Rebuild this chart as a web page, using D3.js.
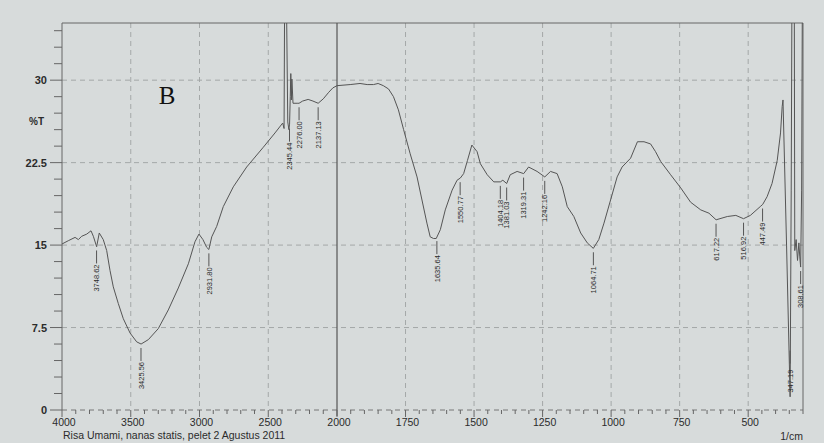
<!DOCTYPE html>
<html>
<head>
<meta charset="utf-8">
<script src="https://cdn.jsdelivr.net/npm/d3@7/dist/d3.min.js"></script>
<style>
  body { margin: 0; background: #d7dbdb; }
  svg { display: block; }
  text { font-family: "Liberation Sans", Arial, sans-serif; fill: #2b2b2b; }
</style>
</head>
<body>
<div id="chart"></div>
<script>
// spectrum (1/cm, %T); 40 = off the top of the chart
var wavenumbers = [4000, 3954, 3905, 3881, 3857, 3820, 3789, 3772, 3748, 3729, 3700, 3675, 3651, 3627, 3591,
	3554, 3505, 3457, 3425, 3372, 3300, 3227, 3154, 3081, 3033, 3004, 2975, 2948, 2932, 2911, 2875, 2827,
	2754, 2657, 2536, 2451, 2395, 2385, 2380, 2370, 2358, 2350, 2345, 2340, 2336, 2332, 2328, 2320, 2290,
	2276, 2250, 2210, 2175, 2137, 2100, 2060, 2030, 2000, 1952, 1916, 1890, 1867, 1850, 1831, 1812, 1794,
	1776, 1757, 1733, 1708, 1690, 1672, 1660, 1648, 1638, 1623, 1605, 1580, 1562, 1550, 1538, 1524, 1508,
	1489, 1477, 1452, 1428, 1404, 1395, 1381, 1368, 1343, 1319, 1301, 1270, 1242, 1221, 1197, 1178, 1160,
	1136, 1111, 1087, 1065, 1045, 1026, 1002, 978, 960, 929, 904, 880, 856, 838, 819, 783, 746, 710, 673,
	643, 617, 576, 545, 517, 492, 456, 447, 431, 413, 394, 382, 376, 373, 360, 347, 343, 340, 332, 330,
	325, 320, 315, 312, 308.6, 305, 302, 300];
var transmittance = [15.1, 15.4, 15.7, 15.5, 15.8, 16.0, 16.3, 15.8, 14.85, 16.1, 15.5, 14.5, 12.7, 11.2, 9.7,
	8.3, 7.0, 6.2, 6.0, 6.4, 7.4, 9.1, 11.1, 13.3, 15.3, 16.0, 15.5, 14.8, 14.6, 15.75, 16.7, 18.5,
	20.3, 22.1, 23.9, 25.2, 26.1, 25.6, 40, 40, 26.2, 25.5, 26.0, 28.5, 30.6, 28.2, 30.1, 27.9, 27.9,
	27.9, 28.1, 28.25, 28.1, 27.9, 28.3, 28.9, 29.3, 29.5, 29.6, 29.7, 29.6, 29.6, 29.7, 29.5, 29.2, 28.5,
	27.3, 25.5, 23.3, 21.2, 19.1, 17.0, 15.75, 15.6, 15.6, 16.4, 18.2, 20.0, 20.9, 21.1, 21.5, 22.7, 24.1,
	23.5, 22.4, 21.4, 20.75, 20.75, 20.9, 20.6, 21.4, 21.7, 21.5, 22.1, 21.7, 21.2, 21.7, 21.5, 20.3, 18.5,
	17.6, 16.1, 15.2, 14.7, 15.5, 17.0, 19.1, 21.2, 22.1, 22.9, 24.4, 24.4, 24.2, 23.5, 22.6, 21.4, 20.2, 18.9, 18.2,
	17.9, 17.3, 17.6, 17.7, 17.4, 17.7, 18.5, 18.7, 19.4, 20.6, 22.7, 25.2, 27.6, 28.2, 15.0, 1.2, 20, 40, 40, 14.5,
	15.5, 13.6, 15.2, 14.0, 13.0, 20, 40, 40];

var peakLabels = ["3748.62", "3425.56", "2931.80", "2345.44", "2276.00", "2137.13", "1635.64", "1550.77",
	"1404.18", "1381.03", "1319.31", "1242.16", "1064.71", "617.22", "516.92", "447.49", "347.19", "308.61"];

var xTickLabels = [4000, 3500, 3000, 2500, 2000, 1750, 1500, 1250, 1000, 750, 500];
var yTickLabels = [0, 7.5, 15, 22.5, 30];

var width = 824, height = 443;
var plotL = 62, plotR = 803, plotT = 23, plotB = 410;

var x = d3.scaleLinear().domain([4000, 2000, 300]).range([plotL, 337, plotR]);
var y = d3.scaleLinear().domain([0, 35.2]).range([plotB, plotT]);

var svg = d3.select('#chart').append('svg').attr('width', width).attr('height', height);

var ink = '#555';
var grid = '#a4a8a8';

// grid
svg.selectAll('.hgrid').data(yTickLabels.filter(function(d){ return d > 0; })).enter().append('line')
	.attr('x1', plotL).attr('x2', plotR)
	.attr('y1', function(d){ return y(d); }).attr('y2', function(d){ return y(d); })
	.attr('stroke', grid).attr('stroke-width', 1).attr('stroke-dasharray', '5,4');

svg.selectAll('.vgrid').data(xTickLabels.filter(function(d){ return d != 4000 && d != 2000; })).enter().append('line')
	.attr('x1', function(d){ return x(d); }).attr('x2', function(d){ return x(d); })
	.attr('y1', plotT).attr('y2', plotB)
	.attr('stroke', grid).attr('stroke-width', 1).attr('stroke-dasharray', '5,4');

// bottom baseline is dashed too
svg.append('line').attr('x1', plotL).attr('x2', plotR).attr('y1', plotB).attr('y2', plotB)
	.attr('stroke', '#777').attr('stroke-dasharray', '5,4');

// frame
svg.append('path')
	.attr('d', 'M' + plotL + ',' + plotB + 'V' + plotT + 'H' + plotR + 'V' + plotB)
	.attr('fill', 'none').attr('stroke', '#666').attr('stroke-width', 1);

// scale break at 2000
svg.append('line').attr('x1', x(2000)).attr('x2', x(2000)).attr('y1', plotT).attr('y2', plotB + 6)
	.attr('stroke', '#555').attr('stroke-width', 1.2);

// y ticks
var yMinor = d3.range(0, 35.2, 1.5);
svg.selectAll('.ytick').data(yMinor).enter().append('line')
	.attr('x1', function(d){ return yTickLabels.indexOf(d) >= 0 ? plotL - 12 : plotL - 8; })
	.attr('x2', plotL)
	.attr('y1', function(d){ return y(d); }).attr('y2', function(d){ return y(d); })
	.attr('stroke', '#666');

svg.selectAll('.ylab').data(yTickLabels).enter().append('text')
	.attr('x', 47).attr('y', function(d){ return y(d) + 4; })
	.attr('text-anchor', 'end').attr('font-size', 11).attr('font-weight', 'bold')
	.text(function(d){ return d; });

svg.append('text').attr('x', 29).attr('y', 125)
	.attr('font-size', 10).attr('font-weight', 'bold').text('%T');

// x ticks
var xMinor = d3.range(4000, 2000, -100).concat(d3.range(2000, 299, -50));
svg.selectAll('.xtick').data(xMinor).enter().append('line')
	.attr('x1', function(d){ return x(d); }).attr('x2', function(d){ return x(d); })
	.attr('y1', plotB)
	.attr('y2', function(d){ return xTickLabels.indexOf(d) >= 0 ? plotB + 7 : plotB + 4; })
	.attr('stroke', '#666');

svg.selectAll('.xlab').data(xTickLabels).enter().append('text')
	.attr('x', function(d){ return x(d) + 2; }).attr('y', 426)
	.attr('text-anchor', 'middle').attr('font-size', 10.5)
	.text(function(d){ return d; });

svg.append('text').attr('x', 63).attr('y', 439).attr('font-size', 10.5)
	.text('Risa Umami, nanas statis, pelet 2 Agustus 2011');

svg.append('text').attr('x', 803).attr('y', 440).attr('text-anchor', 'end').attr('font-size', 10.5)
	.text('1/cm');

svg.append('text').attr('x', 167).attr('y', 104).attr('text-anchor', 'middle')
	.style('font-family', '"Liberation Serif", "DejaVu Serif", serif').style('fill', '#111')
	.attr('font-size', 25).text('B');

// spectrum
svg.append('clipPath').attr('id', 'plotclip').append('rect')
	.attr('x', plotL).attr('y', plotT).attr('width', plotR - plotL).attr('height', plotB - plotT);

var points = wavenumbers.map(function(w, i){ return [w, transmittance[i]]; });
var line = d3.line().x(function(d){ return x(d[0]); }).y(function(d){ return y(d[1]); });

svg.append('path').datum(points)
	.attr('clip-path', 'url(#plotclip)')
	.attr('d', line)
	.attr('fill', 'none').attr('stroke', ink).attr('stroke-width', 1)
	.attr('stroke-linejoin', 'round');

// peak labels
function valueAt(w) {
	for (var i = 0; i < wavenumbers.length - 1; i++) {
		if (wavenumbers[i] >= w && wavenumbers[i+1] <= w) {
			var t = (wavenumbers[i] - w) / (wavenumbers[i] - wavenumbers[i+1]);
			return transmittance[i] + t * (transmittance[i+1] - transmittance[i]);
		}
	}
	return transmittance[transmittance.length - 1];
}

var gap = 4, tickLen = 13, textLen = 28;
peakLabels.forEach(function(lbl) {
	var w = +lbl;
	var px = x(w);
	var py = y(Math.min(valueAt(w), 35));
	var g = svg.append('g');
	if (py + gap + tickLen + textLen > plotB) {
		// no room under the peak: write it upward from just above the minimum
		var ty = py - 2;
		g.append('text')
			.attr('transform', 'translate(' + px + ',' + ty + ') rotate(-90)')
			.attr('dy', '0.35em').attr('text-anchor', 'start').attr('font-size', 7.5)
			.text(lbl);
		g.append('line').attr('x1', px).attr('x2', px)
			.attr('y1', ty - textLen - 1).attr('y2', ty - textLen - 1 - tickLen)
			.attr('stroke', ink);
	} else {
		g.append('line').attr('x1', px).attr('x2', px)
			.attr('y1', py + gap).attr('y2', py + gap + tickLen)
			.attr('stroke', ink);
		g.append('text')
			.attr('transform', 'translate(' + px + ',' + (py + gap + tickLen + 1) + ') rotate(-90)')
			.attr('dy', '0.35em').attr('text-anchor', 'end').attr('font-size', 7.5)
			.text(lbl);
	}
});
</script>
</body>
</html>
